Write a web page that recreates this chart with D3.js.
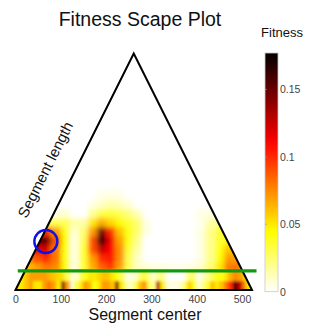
<!DOCTYPE html>
<html>
<head>
<meta charset="utf-8">
<script src="https://cdn.jsdelivr.net/npm/d3@7"></script>
<style>
  html, body { margin: 0; padding: 0; background: #fff; }
  svg { display: block; font-family: "Liberation Sans", Arial, Helvetica, sans-serif; }
</style>
</head>
<body>
<svg id="chart" width="323" height="326"></svg>
<script>
// ---- data -------------------------------------------------------------
const songLength = 522;                       // frames
const fitnessMax = 0.177;                     // top of colour range
const centerTicks = [0, 100, 200, 300, 400, 500];
const fitnessTicks = [0, 0.05, 0.1, 0.15];
const thresholdLength = 42;                   // green threshold line
const thresholdSpan = [5, 532];
const selectedCenter = 67;                    // circled segment
const selectedLength = 107;

// coarse grid: centres every 20 frames, lengths every 20 frames (40..220)
const coarseCenters = d3.range(10, 520, 20);
const coarseLengths = [50, 70, 90, 110, 130, 150, 170, 190, 210];
const coarseFitness = [
  // L = 50
  [0.05, 0.06, 0.07, 0.08, 0.075, 0.045, 0.005, 0.035, 0.065, 0.085, 0.095, 0.07, 0.03, 0.01, 0.008, 0.005, 0.005, 0.004, 0.004, 0.006, 0.01, 0.025, 0.05, 0.08, 0.08, 0.06],
  // L = 70
  [0.07, 0.08, 0.09, 0.10, 0.08, 0.04, 0.005, 0.035, 0.07, 0.10, 0.105, 0.075, 0.03, 0.01, 0, 0, 0, 0, 0, 0, 0.005, 0.02, 0.045, 0.07, 0.07, 0.06],
  // L = 90
  [0.10, 0.11, 0.12, 0.12, 0.08, 0.04, 0.005, 0.035, 0.09, 0.125, 0.11, 0.075, 0.035, 0.015, 0, 0, 0, 0, 0, 0, 0.005, 0.02, 0.04, 0.06, 0.06, 0.05],
  // L = 110
  [0.12, 0.14, 0.16, 0.15, 0.09, 0.045, 0.005, 0.03, 0.09, 0.165, 0.115, 0.07, 0.04, 0.02, 0, 0, 0, 0, 0, 0, 0.005, 0.02, 0.035, 0.045, 0.045, 0.04],
  // L = 130
  [0.09, 0.10, 0.10, 0.10, 0.07, 0.04, 0.008, 0.025, 0.07, 0.145, 0.10, 0.06, 0.04, 0.025, 0.005, 0, 0, 0, 0, 0, 0.005, 0.02, 0.035, 0.035, 0.03, 0.02],
  // L = 150
  [0.02, 0.02, 0.025, 0.03, 0.03, 0.03, 0.015, 0.015, 0.05, 0.065, 0.055, 0.045, 0.035, 0.025, 0.005, 0, 0, 0, 0, 0, 0.003, 0.015, 0.02, 0.02, 0.01, 0],
  // L = 170
  [0, 0, 0, 0, 0.005, 0.008, 0, 0, 0.018, 0.032, 0.034, 0.03, 0.022, 0.012, 0, 0, 0, 0, 0, 0, 0.005, 0.005, 0, 0, 0, 0],
  // L = 190
  [0, 0, 0, 0, 0, 0, 0, 0, 0.005, 0.01, 0.015, 0.012, 0.008, 0, 0, 0, 0, 0, 0, 0, 0, 0, 0, 0, 0, 0],
  // L = 210
  [0, 0, 0, 0, 0, 0, 0, 0, 0, 0.004, 0.005, 0.004, 0, 0, 0, 0, 0, 0, 0, 0, 0, 0, 0, 0, 0, 0]
];

// fine grid for short segments: centres every 10 frames, lengths 0..40
const fineCenters = d3.range(5, 520, 10);
const fineLengths = [10, 30];
const fineFitness = [
  // L = 10
  [0.05, 0.05, 0.06, 0.07, 0.05, 0.05, 0.07, 0.08, 0.07, 0.05, 0.14, 0.07, 0.01, 0.03, 0.05, 0.07, 0.06, 0.04, 0.05, 0.07,
   0.07, 0.06, 0.14, 0.05, 0.02, 0.01, 0.03, 0.06, 0.07, 0.03, 0.02, 0.13, 0.05, 0.01, 0.005, 0.005, 0.01, 0.03, 0.055, 0.04,
   0.01, 0.02, 0.035, 0.06, 0.05, 0.06, 0.08, 0.10, 0.16, 0.13, 0.08, 0.05],
  // L = 30
  [0.05, 0.05, 0.06, 0.07, 0.07, 0.07, 0.07, 0.065, 0.06, 0.055, 0.05, 0.03, 0.01, 0.01, 0.03, 0.04, 0.05, 0.05, 0.055, 0.06,
   0.06, 0.05, 0.04, 0.03, 0.01, 0.005, 0.01, 0.025, 0.035, 0.02, 0.01, 0.02, 0.02, 0.005, 0, 0, 0, 0.005, 0.025, 0.025,
   0.005, 0.01, 0.02, 0.03, 0.04, 0.04, 0.05, 0.065, 0.075, 0.07, 0.06, 0.05]
];

// ---- scales -----------------------------------------------------------
const svg = d3.select("#chart");
const x = d3.scaleLinear().domain([0, songLength]).range([15.5, 252]);
const y = d3.scaleLinear().domain([0, songLength]).range([290, 290 - (252 - 15.5)]);

// reversed "hot" colour map: white -> yellow -> red -> black
function hot(s) {
  const c = v => Math.max(0, Math.min(1, v));
  return d3.rgb(255 * c(s / 0.375), 255 * c((s - 0.375) / 0.375), 255 * c((s - 0.75) / 0.25));
}
const color = d3.scaleSequential(t => hot(1 - t)).domain([0, fitnessMax]).clamp(true);

const defs = svg.append("defs");
const trianglePts = [[x(0), y(0)], [x(songLength / 2), y(songLength)], [x(songLength), y(0)]];
defs.append("clipPath").attr("id", "tri")
  .append("path").attr("d", d3.line()(trianglePts) + "Z");
[["softCoarse", 2.8], ["softFine", 1.4]].forEach(([id, sd]) =>
  defs.append("filter").attr("id", id)
    .attr("filterUnits", "userSpaceOnUse")
    .attr("x", 0).attr("y", 0).attr("width", 323).attr("height", 326)
    .append("feGaussianBlur").attr("stdDeviation", sd));

// ---- fitness cells ----------------------------------------------------
// each cell spans [c0,c1] x [L0,L1]; outer cells run past the triangle so the
// soft edge stays hidden outside the clip
function gridCells(centers, lengths, values, dc, dL, padBottom, padTop) {
  const out = [];
  lengths.forEach((L, r) => centers.forEach((c, k) => out.push({
    c0: c - dc - (k === 0 ? 20 : 0),
    c1: c + dc + (k === centers.length - 1 ? 20 : 0),
    L0: L - dL - (r === 0 ? padBottom : 0),
    L1: L + dL + (r === lengths.length - 1 ? padTop : 0),
    v: values[r][k]
  })));
  return out;
}
function drawCells(g, data) {
  g.selectAll("rect").data(data).join("rect")
    .attr("shape-rendering", "crispEdges")
    .attr("x", d => x(d.c0) - 0.3)
    .attr("width", d => x(d.c1) - x(d.c0) + 0.6)
    .attr("y", d => y(d.L1) - 0.3)
    .attr("height", d => y(d.L0) - y(d.L1) + 0.6)
    .attr("fill", d => color(d.v));
}

const heat = svg.append("g").attr("clip-path", "url(#tri)");
drawCells(heat.append("g").attr("filter", "url(#softCoarse)"),
  gridCells(coarseCenters, coarseLengths, coarseFitness, 10, 10, 40, 0));
drawCells(heat.append("g").attr("filter", "url(#softFine)"),
  gridCells(fineCenters, fineLengths, fineFitness, 5, 10, 20, 4));

// triangle outline
svg.append("path")
  .attr("d", d3.line()(trianglePts) + "Z")
  .attr("fill", "none").attr("stroke", "#000").attr("stroke-width", 2)
  .attr("stroke-linejoin", "miter");

// threshold line and circled segment
svg.append("line")
  .attr("x1", x(thresholdSpan[0])).attr("x2", x(thresholdSpan[1]))
  .attr("y1", y(thresholdLength)).attr("y2", y(thresholdLength))
  .attr("stroke", "#109a10").attr("stroke-width", 3.2);
svg.append("circle")
  .attr("cx", x(selectedCenter)).attr("cy", y(selectedLength)).attr("r", 11.5)
  .attr("fill", "none").attr("stroke", "#1010ee").attr("stroke-width", 2.4);

// ---- axes & labels ----------------------------------------------------
const xAxis = svg.append("g").attr("transform", `translate(0,${y(0) + 3})`)
  .call(d3.axisBottom(x).tickValues(centerTicks).tickSize(0).tickPadding(3));
xAxis.select(".domain").remove();
xAxis.selectAll("text").attr("font-size", 10.5).attr("fill", "#444")
  .attr("font-family", "Liberation Sans, Arial, sans-serif");

svg.append("text").attr("x", 140).attr("y", 26).attr("text-anchor", "middle")
  .attr("font-size", 19.5).attr("fill", "#111").text("Fitness Scape Plot");
svg.append("text").attr("x", 145).attr("y", 320).attr("text-anchor", "middle")
  .attr("font-size", 16).attr("fill", "#111").text("Segment center");

const edgeAngle = Math.atan2(y(0) - y(songLength), x(songLength / 2) - x(0)) * 180 / Math.PI;
svg.append("text")
  .attr("transform", `translate(50,172) rotate(${-edgeAngle})`)
  .attr("text-anchor", "middle")
  .attr("font-size", 15).attr("fill", "#111").text("Segment length");

// ---- colour bar -------------------------------------------------------
const cb = d3.scaleLinear().domain([0, fitnessMax]).range([291.7, 53]);
const grad = defs.append("linearGradient").attr("id", "cbgrad")
  .attr("x1", 0).attr("y1", 1).attr("x2", 0).attr("y2", 0);
d3.range(0, 1.0001, 0.05).forEach(t =>
  grad.append("stop").attr("offset", t).attr("stop-color", color(t * fitnessMax)));
svg.append("rect")
  .attr("x", 265).attr("y", cb(fitnessMax)).attr("width", 13)
  .attr("height", cb(0) - cb(fitnessMax))
  .attr("fill", "url(#cbgrad)").attr("stroke", "#c8c8c8").attr("stroke-width", 0.8);

const cbAxis = svg.append("g").attr("transform", "translate(278,0)")
  .call(d3.axisRight(cb).tickValues(fitnessTicks).tickFormat(d3.format("")).tickSize(0).tickPadding(2));
cbAxis.select(".domain").remove();
cbAxis.selectAll("text").attr("font-size", 10.5).attr("fill", "#444")
  .attr("font-family", "Liberation Sans, Arial, sans-serif");
svg.append("g").selectAll("line").data(fitnessTicks.slice(1)).join("line")
  .attr("x1", 265).attr("x2", 267).attr("y1", d => cb(d)).attr("y2", d => cb(d))
  .attr("stroke", "#999").attr("stroke-width", 0.6);

svg.append("text").attr("x", 282).attr("y", 37).attr("text-anchor", "middle")
  .attr("font-size", 13).attr("fill", "#111").text("Fitness");
</script>
</body>
</html>
